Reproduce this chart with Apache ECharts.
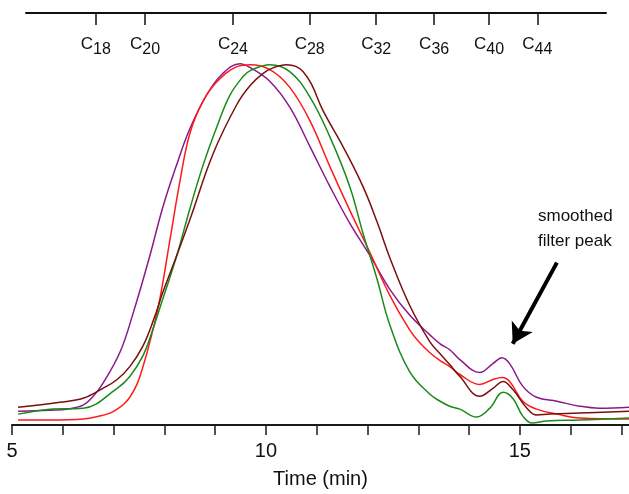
<!DOCTYPE html>
<html>
<head>
<meta charset="utf-8">
<script src="https://cdn.jsdelivr.net/npm/echarts@6/dist/echarts.min.js"></script>
<style>
  html, body { margin: 0; padding: 0; background: #fff; }
  #chart { width: 629px; height: 494px; }
</style>
</head>
<body>
<div id="chart"></div>
<script>
// Elution traces: [time (min), detector response]
const violetTrace = [[5.12,14],[5.75,15],[6.08,16],[6.40,20],[6.60,29],[6.79,42],[7.13,74],[7.38,112],[7.72,172],[7.97,220],[8.25,264],[8.50,299],[8.84,334],[9.15,355],[9.49,365],[9.69,361],[10.08,347],[10.47,321],[10.87,281],[11.26,241],[11.65,204],[12.05,171],[12.44,137],[12.83,111],[13.23,91],[13.43,82],[13.62,76],[13.82,66],[14.21,53],[14.47,62],[14.65,68],[14.80,62],[15.06,39],[15.33,28],[15.73,24],[16.18,19],[16.57,17],[17.15,18]];
const redTrace = [[5.12,5],[5.75,5],[6.40,6],[6.73,9],[6.93,12],[7.07,16],[7.20,21],[7.32,28],[7.46,41],[7.58,59],[7.72,85],[7.91,127],[8.11,187],[8.31,247],[8.50,294],[8.76,327],[9.04,347],[9.43,362],[9.69,364],[10.08,359],[10.47,341],[10.87,307],[11.26,261],[11.65,217],[12.05,174],[12.44,131],[12.83,96],[13.03,83],[13.23,73],[13.43,65],[13.62,59],[13.82,51],[14.21,41],[14.47,46],[14.65,48],[14.80,44],[15.06,24],[15.33,16],[15.73,11],[16.18,7],[17.15,6]];
const greenTrace = [[5.12,11],[5.75,16],[6.40,17],[7.07,37],[7.32,49],[7.58,70],[7.75,93],[7.91,118],[8.25,172],[8.50,218],[8.76,262],[9.04,302],[9.29,333],[9.55,352],[9.69,358],[10.08,364],[10.47,357],[10.87,331],[11.26,291],[11.65,241],[11.91,194],[12.19,147],[12.44,101],[12.83,54],[13.23,31],[13.43,24],[13.62,19],[13.82,16],[14.15,8],[14.41,17],[14.67,33],[14.86,27],[15.06,9],[15.24,2],[15.53,4],[16.18,5],[17.15,7]];
const maroonTrace = [[5.12,18],[5.94,23],[6.40,27],[6.79,37],[7.07,46],[7.32,59],[7.58,80],[7.80,108],[7.97,134],[8.25,172],[8.50,207],[8.96,274],[9.43,324],[9.69,343],[9.94,355],[10.15,361],[10.41,364],[10.60,362],[10.73,357],[10.90,344],[11.12,318],[11.52,281],[11.91,241],[12.19,205],[12.44,169],[12.83,121],[13.23,84],[13.43,72],[13.62,61],[13.82,49],[14.21,29],[14.47,37],[14.67,44],[14.86,36],[15.14,17],[15.33,10],[15.59,11],[16.18,12],[17.15,14]];

// n-alkane retention markers on the top scale
const carbonNumbers = ['18','20','24','28','32','36','40','44'];
const carbonTimes = [6.65, 7.62, 9.35, 10.86, 12.17, 13.31, 14.39, 15.34];

// Time axis ticks
const timeTicks = [5,6,7,8,9,10,11,12,13,14,15,16,17];
const timeLabels = [5,10,15];

// Annotation arrow (time, response)
const arrowFrom = [15.73, 164];
const arrowTo = [14.86, 82];

const FONT = '"Liberation Sans", Arial, Helvetica, sans-serif';

const chart = echarts.init(document.getElementById('chart'), null, { renderer: 'canvas' });

function trace(name, data, color, extra) {
  return Object.assign({
    name: name,
    type: 'line',
    xAxisIndex: 0,
    yAxisIndex: 0,
    data: data,
    symbol: 'none',
    smooth: 0.4,
    lineStyle: { color: color, width: 1.5 },
    silent: true,
    z: 3
  }, extra || {});
}

chart.setOption({
  animation: false,
  backgroundColor: '#ffffff',
  grid: [
    { left: 12, right: 0, top: 29, bottom: 65 },
    { left: 26, right: 23, top: 13, bottom: 65 }
  ],
  xAxis: [
    {
      gridIndex: 0,
      type: 'value',
      min: 5,
      max: 17.15,
      interval: 1,
      position: 'bottom',
      splitLine: { show: false },
      axisLine: { show: true, onZero: false, lineStyle: { color: '#1a1a1a', width: 2 } },
      axisTick: { show: true, length: 10, customValues: timeTicks, lineStyle: { color: '#1a1a1a', width: 1.5 } },
      axisLabel: { show: true, customValues: timeLabels, margin: 16, fontSize: 20, color: '#111', fontFamily: FONT },
      name: 'Time (min)',
      nameLocation: 'middle',
      nameGap: 44,
      nameTextStyle: { fontSize: 20, color: '#111', fontFamily: FONT }
    },
    {
      gridIndex: 1,
      type: 'value',
      min: 5.2756,
      max: 16.693,
      position: 'top',
      splitLine: { show: false },
      axisLine: { show: true, onZero: false, lineStyle: { color: '#111', width: 2 } },
      axisTick: { show: true, inside: true, length: 12, customValues: carbonTimes, lineStyle: { color: '#111', width: 1.5 } },
      axisLabel: {
        show: true,
        inside: true,
        margin: 23,
        customValues: carbonTimes,
        fontFamily: FONT,
        color: '#111',
        formatter: function (v) {
          const i = carbonTimes.indexOf(v);
          return '{c|C}{s|' + carbonNumbers[i] + '}';
        },
        rich: {
          c: { fontSize: 17, lineHeight: 17, verticalAlign: 'top', fontFamily: FONT, color: '#111' },
          s: { fontSize: 16, lineHeight: 22, verticalAlign: 'bottom', fontFamily: FONT, color: '#111' }
        }
      }
    }
  ],
  yAxis: [
    { gridIndex: 0, type: 'value', min: 0, max: 400, show: false, splitLine: { show: false } },
    { gridIndex: 1, type: 'value', min: 0, max: 400, show: false, splitLine: { show: false } }
  ],
  series: [
    trace('violet', violetTrace, '#8a1a8c', {
      markLine: {
        silent: true,
        symbol: ['none', 'arrow'],
        symbolSize: [18, 20],
        label: { show: false },
        lineStyle: { color: '#000', width: 4, type: 'solid' },
        data: [[{ coord: arrowFrom }, { coord: arrowTo }]]
      }
    }),
    trace('red', redTrace, '#ff1a1a'),
    trace('green', greenTrace, '#1a8a1a'),
    trace('maroon', maroonTrace, '#7a0f0f')
  ],
  graphic: [
    {
      type: 'text',
      left: 538,
      top: 204,
      style: {
        text: 'smoothed\nfilter peak',
        font: '17px ' + FONT,
        fill: '#111',
        align: 'center',
        lineHeight: 25
      }
    }
  ]
});
</script>
</body>
</html>
